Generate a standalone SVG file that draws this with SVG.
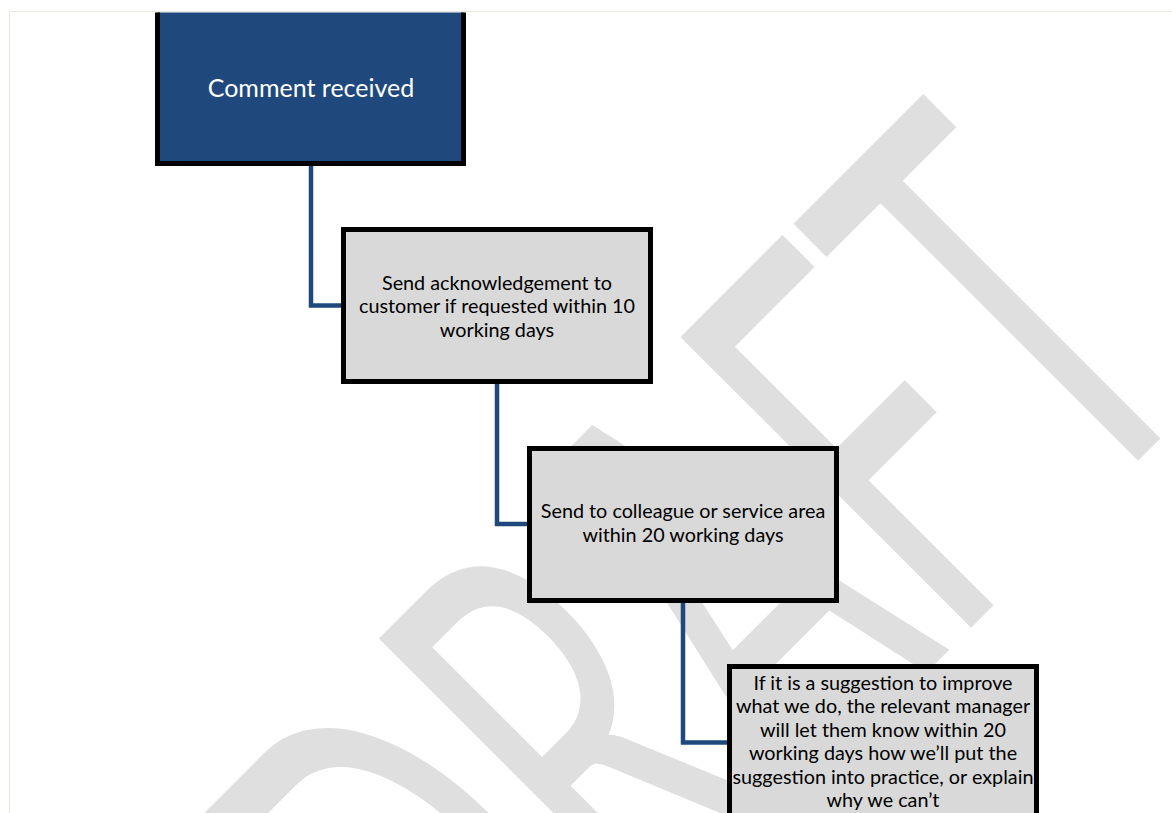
<svg xmlns="http://www.w3.org/2000/svg" width="1172" height="813" viewBox="0 0 1172 813">
<defs>
<style>
.box{fill:#d9d9d9;stroke:#000;stroke-width:5}
.dark{fill:#1f497d;stroke:#000;stroke-width:5}
.t{font-family:Lato,"Liberation Sans",sans-serif;font-size:19.8px;fill:#000;text-anchor:middle}
.tw{font-family:Lato,"Liberation Sans",sans-serif;font-size:25px;fill:#fff;text-anchor:middle}
.conn{fill:none;stroke:#1f497d;stroke-width:4.5;stroke-linejoin:miter}
.wm{font-family:Lato,"Liberation Sans",sans-serif;font-size:574px;fill:#dfdfdf}
</style>
<clipPath id="page"><rect x="10" y="12.5" width="1162" height="801"/></clipPath>
</defs>
<rect width="1172" height="813" fill="#fff"/>
<path d="M9.5 813V11.5H1172" fill="none" stroke="#ebe8df" stroke-width="1"/>
<g clip-path="url(#page)">
<g id="watermark">
<text class="wm" text-anchor="middle" transform="translate(845,754) rotate(-45) scale(0.57,1)">DRAFT</text>
</g>
<g id="connectors">
<path class="conn" d="M311 166V305.5H342"/>
<path class="conn" d="M497 384V524H528"/>
<path class="conn" d="M683 603V742.5H728"/>
</g>
<g id="node1">
<rect class="dark" x="157.5" y="-10" width="306" height="173.5"/>
<text class="tw" x="311" y="97">Comment received</text>
</g>
<g id="node2">
<rect class="box" x="343.5" y="229.5" width="307" height="152"/>
<text class="t" x="497" y="290">Send acknowledgement to</text>
<text class="t" x="497" y="313.3">customer if requested within 10</text>
<text class="t" x="497" y="336.6">working days</text>
</g>
<g id="node3">
<rect class="box" x="529.5" y="448.5" width="307" height="152"/>
<text class="t" x="683" y="518.3">Send to colleague or service area</text>
<text class="t" x="683" y="541.7">within 20 working days</text>
</g>
<g id="node4">
<rect class="box" x="729.5" y="666.5" width="307" height="170"/>
<text class="t" x="883" y="690">If it is a suggestion to improve</text>
<text class="t" x="883" y="713.4">what we do, the relevant manager</text>
<text class="t" x="883" y="736.8">will let them know within 20</text>
<text class="t" x="883" y="760.2">working days how we’ll put the</text>
<text class="t" x="883" y="783.6">suggestion into practice, or explain</text>
<text class="t" x="883" y="807">why we can’t</text>
</g>
</g>
</svg>
